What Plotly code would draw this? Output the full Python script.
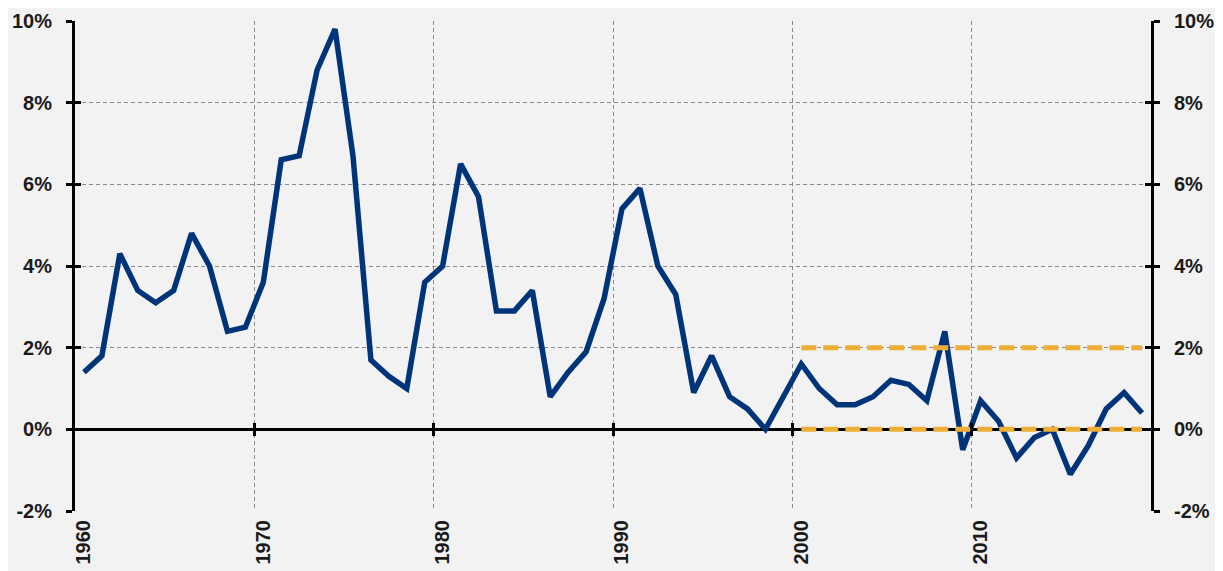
import plotly.graph_objects as go

years = list(range(1960, 2020))
inflation = [
    1.4, 1.8, 4.3, 3.4, 3.1, 3.4, 4.8, 4.0, 2.4, 2.5,
    3.6, 6.6, 6.7, 8.8, 9.8, 6.7, 1.7, 1.3, 1.0, 3.6,
    4.0, 6.5, 5.7, 2.9, 2.9, 3.4, 0.8, 1.4, 1.9, 3.2,
    5.4, 5.9, 4.0, 3.3, 0.9, 1.8, 0.8, 0.5, 0.0, 0.8,
    1.6, 1.0, 0.6, 0.6, 0.8, 1.2, 1.1, 0.7, 2.4, -0.5,
    0.7, 0.2, -0.7, -0.2, 0.0, -1.1, -0.4, 0.5, 0.9, 0.4,
]
target_years = list(range(2000, 2020))
target_upper = [2.0] * len(target_years)
target_lower = [0.0] * len(target_years)

label_years = [1960, 1970, 1980, 1990, 2000, 2010]
boundaries = [y - 0.5 for y in [1970, 1980, 1990, 2000, 2010]]
y_ticks = [-2, 0, 2, 4, 6, 8, 10]
y_ticktext = [f"{v}%" for v in y_ticks]

BG = "#f2f2f2"
FONT = dict(family="Liberation Sans, Arial, sans-serif", size=20, color="#1a1a1a", weight="bold")
XRANGE = [1959.5, 2019.5]
YRANGE = [-2, 10]

fig = go.Figure()
fig.add_trace(go.Scatter(x=years, y=inflation, mode="lines",
                         line=dict(color="#003479", width=5.5), hoverinfo="x+y",
                         showlegend=False))
fig.add_trace(go.Scatter(x=target_years, y=target_upper, mode="lines",
                         line=dict(color="#EFAE35", width=5, dash="15px,7px"),
                         showlegend=False))
fig.add_trace(go.Scatter(x=target_years, y=target_lower, mode="lines",
                         line=dict(color="#EFAE35", width=5, dash="15px,7px"),
                         showlegend=False))
# empty traces so overlay axes are drawn
for xa, ya in [("x2", "y"), ("x3", "y"), ("x", "y2"), ("x", "y3"), ("x", "y4")]:
    fig.add_trace(go.Scatter(x=[], y=[], xaxis=xa, yaxis=ya, showlegend=False, hoverinfo="skip"))

grid = dict(gridcolor="#8a8a8a", gridwidth=1, griddash="4px,3px")
zero_pos = (0 - YRANGE[0]) / (YRANGE[1] - YRANGE[0])

fig.update_layout(
    width=1223, height=571,
    paper_bgcolor=BG, plot_bgcolor=BG,
    margin=dict(l=67, r=80, t=13, b=68),
    showlegend=False,
    xaxis=dict(range=XRANGE, tickmode="array", tickvals=label_years,
               ticktext=[str(y) for y in label_years], tickangle=-90,
               tickfont=FONT, ticks="", showgrid=False, zeroline=False, showline=False,
               ticklabelstandoff=4, automargin=False,
               minor=dict(tickmode="array", tickvals=boundaries, showgrid=True, ticks="", **grid)),
    xaxis2=dict(range=XRANGE, overlaying="x", anchor="free", position=zero_pos,
                tickmode="array", tickvals=boundaries, ticks="outside", ticklen=6, tickwidth=3,
                tickcolor="black", showticklabels=False, showgrid=False, zeroline=False,
                showline=False, automargin=False),
    xaxis3=dict(range=XRANGE, overlaying="x", anchor="free", position=zero_pos,
                side="top",
                tickmode="array", tickvals=boundaries, ticks="outside", ticklen=6, tickwidth=3,
                tickcolor="black", showticklabels=False, showgrid=False, zeroline=False,
                showline=False, automargin=False),
    yaxis=dict(range=YRANGE, tickmode="array", tickvals=y_ticks, ticktext=y_ticktext,
               tickfont=FONT, ticks="outside", ticklen=6, tickwidth=3, tickcolor="black",
               showline=True, linecolor="black", linewidth=3,
               showgrid=True, zeroline=True, zerolinecolor="black", zerolinewidth=3,
               ticklabelstandoff=10, automargin=False, **grid),
    yaxis2=dict(range=YRANGE, overlaying="y", side="right", anchor="x", tickmode="array",
                tickvals=y_ticks, ticktext=y_ticktext, tickfont=FONT, ticks="outside",
                ticklen=6, tickwidth=3, tickcolor="black", showline=True, linecolor="black",
                linewidth=3, showgrid=False, zeroline=False, ticklabelstandoff=10,
                automargin=False),
    yaxis3=dict(range=YRANGE, overlaying="y", side="left", anchor="x", tickmode="array",
                tickvals=y_ticks, ticks="inside", ticklen=6, tickwidth=3, tickcolor="black",
                showticklabels=False, showline=False, showgrid=False, zeroline=False,
                automargin=False),
    yaxis4=dict(range=YRANGE, overlaying="y", side="right", anchor="x", tickmode="array",
                tickvals=y_ticks, ticks="inside", ticklen=6, tickwidth=3, tickcolor="black",
                showticklabels=False, showline=False, showgrid=False, zeroline=False,
                automargin=False),
)

fig.write_html("out.html")
